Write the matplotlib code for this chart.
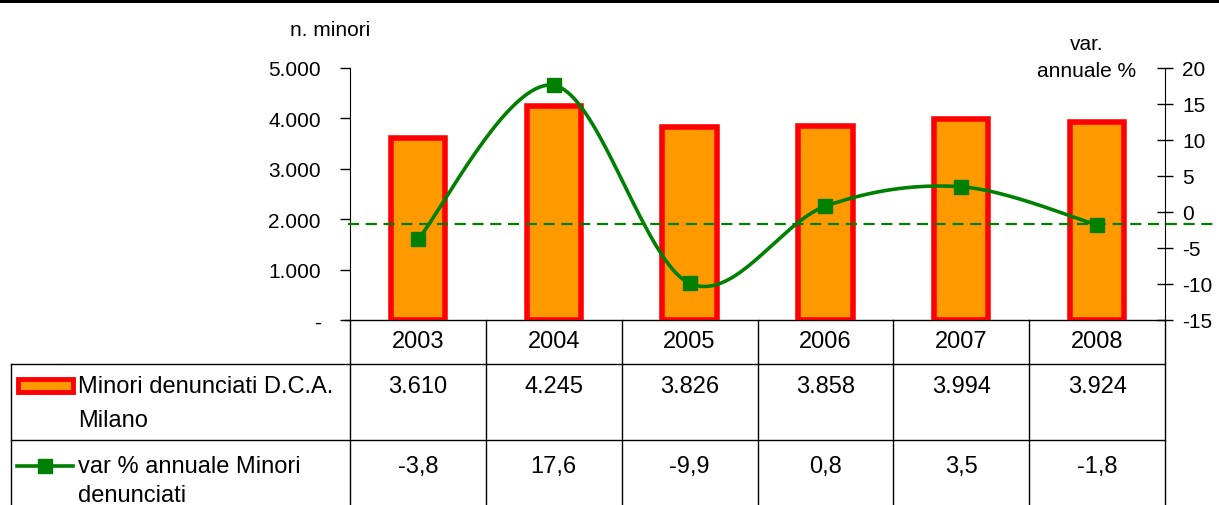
import numpy as np
import matplotlib
matplotlib.use("Agg")
import matplotlib.pyplot as plt
import matplotlib.patches as patches

plt.rcParams['font.family'] = ['Liberation Sans', 'DejaVu Sans']
plt.rcParams['axes.unicode_minus'] = False

anni = ['2003', '2004', '2005', '2006', '2007', '2008']
minori = [3610, 4245, 3826, 3858, 3994, 3924]
var_pct = [-3.8, 17.6, -9.9, 0.8, 3.5, -1.8]
linea_rif = -1.6
serie1 = ['Minori denunciati D.C.A.', 'Milano']
serie2 = ['var % annuale Minori', 'denunciati']

W, H = 1219, 506
ORANGE = '#FF9900'
RED = '#FF0000'
GREEN = '#008000'

def smooth(xs, ys, n=40):
    # curva "smussata" stile Excel (Catmull-Rom come Bezier)
    P = np.column_stack([xs, ys]).astype(float)
    P = np.vstack([P[0], P, P[-1]])
    out = []
    t = np.linspace(0, 1, n)[:, None]
    for i in range(1, len(P) - 2):
        p0, p1, p2, p3 = P[i-1], P[i], P[i+1], P[i+2]
        c1 = p1 + (p2 - p0) / 6
        c2 = p2 - (p3 - p1) / 6
        seg = (1-t)**3*p1 + 3*(1-t)**2*t*c1 + 3*(1-t)*t**2*c2 + t**3*p2
        out.append(seg)
    out = np.vstack(out)
    return out[:, 0], out[:, 1]

fig = plt.figure(figsize=(W/100, H/100), dpi=100)

L, R, T, B = 350, 1165, 69, 321
ax = fig.add_axes([L/W, 1-B/H, (R-L)/W, (B-T)/H])
ax.patch.set_visible(False)
x = np.arange(len(anni))
ax.bar(x, minori, width=0.40, color=ORANGE, edgecolor=RED, linewidth=4, zorder=2)
ax.set_xlim(-0.5, len(anni)-0.5)
ax.set_ylim(0, 5000)
ax.set_yticks(np.arange(0, 5001, 1000))
ax.set_yticklabels(['-' if v == 0 else f'{v:,}'.replace(',', '.') for v in range(0, 5001, 1000)],
                   fontsize=15)
ax.set_xticks([])
ax.tick_params(axis='y', direction='out', length=7, width=1, pad=14)
for s in ['top', 'right', 'bottom']:
    ax.spines[s].set_visible(False)

ax2 = ax.twinx()
ax2.patch.set_visible(False)
ax2.set_ylim(-15, 20)
ax2.set_yticks(np.arange(-15, 21, 5))
ax2.set_yticklabels([str(v) for v in range(-15, 21, 5)], fontsize=15)
ax2.tick_params(axis='y', direction='inout', length=11, width=1, pad=7)
for s in ['top', 'left', 'bottom']:
    ax2.spines[s].set_visible(False)
sx, sy = smooth(x, var_pct)
ax2.plot(sx, sy, color=GREEN, lw=2.6, zorder=3)
ax2.plot(x, var_pct, ls='none', marker='s', ms=9.5, color=GREEN, zorder=4)
ax2.axhline(linea_rif, xmin=-0.003, xmax=(W-L)/(R-L), color=GREEN, lw=1.6,
            ls=(0, (5, 3)), clip_on=False, zorder=3)

# overlay in pixel per tabella e testi
ov = fig.add_axes([0, 0, 1, 1], zorder=-1)
ov.set_xlim(0, W)
ov.set_ylim(H, 0)
ov.axis('off')

ov.add_patch(patches.Rectangle((0, 0), W, 4, color='black', lw=0))
ov.text(330, 30, 'n. minori', ha='center', va='center', fontsize=15)
ov.text(1087, 58, 'var.\nannuale %', ha='center', va='center', fontsize=15, linespacing=1.5)

fs = 17
colw = (R - L) / len(anni)
r0, r1, r2 = 365, 441, H + 2
k = dict(color='black', lw=1)
ov.plot([345, R], [B, B], **k)
ov.plot([11, R], [r0, r0], **k)
ov.plot([11, R], [r1, r1], **k)
ov.plot([11, 11], [r0, r2], **k)
for i in range(len(anni) + 1):
    xc = L + i * colw
    ov.plot([xc, xc], [B, r2], **k)
for i, a in enumerate(anni):
    xc = L + (i + 0.5) * colw
    ov.text(xc, 342, a, ha='center', va='center', fontsize=fs)
    ov.text(xc, 387, f'{minori[i]:,}'.replace(',', '.'), ha='center', va='center', fontsize=fs)
    ov.text(xc, 467, f'{var_pct[i]:.1f}'.replace('.', ','), ha='center', va='center', fontsize=fs)

ov.add_patch(patches.Rectangle((18, 380), 55, 13, facecolor=ORANGE, edgecolor=RED, lw=3.5))
ov.text(78, 387, serie1[0], ha='left', va='center', fontsize=fs)
ov.text(78, 421, serie1[1], ha='left', va='center', fontsize=fs)
ov.plot([17, 73], [467, 467], color=GREEN, lw=2.6)
ov.plot([45], [467], marker='s', ms=9.5, color=GREEN)
ov.text(78, 467, serie2[0], ha='left', va='center', fontsize=fs)
ov.text(78, 496, serie2[1], ha='left', va='center', fontsize=fs)

fig.savefig('out.png', dpi=100)
